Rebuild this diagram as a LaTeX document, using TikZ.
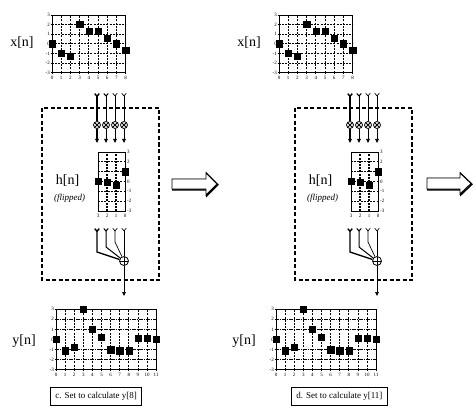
\documentclass[tikz,border=0pt]{standalone}
\usepackage{fontspec}
\setmainfont{Liberation Serif}
\usetikzlibrary{arrows.meta, plotmarks}

\tikzset{
  gridline/.style={dash pattern=on 2pt off 1.2pt, line width=0.8pt},
  dotline/.style={dash pattern=on 1.6pt off 0.7pt on 0.5pt off 0.7pt, line width=0.6pt},
  frame/.style={line width=0.7pt},
  ticklabel/.style={font=\fontsize{5}{5}\selectfont, inner sep=0.6pt},
  signal/.style={font=\fontsize{14}{16}\selectfont},
  mult/.style={circle, draw, line width=0.8pt, minimum size=7pt, inner sep=0pt, fill=white,
    path picture={\draw (path picture bounding box.south west) -- (path picture bounding box.north east)
      (path picture bounding box.north west) -- (path picture bounding box.south east);}},
  adder/.style={circle, draw, line width=0.8pt, minimum size=9pt, inner sep=0pt,
    path picture={\draw (path picture bounding box.west) -- (path picture bounding box.east)
      (path picture bounding box.north) -- (path picture bounding box.south);}},
  feed/.style={{Straight Barb[reversed, length=2.5pt, width=4.5pt]}-},
  outarrow/.style={-{Triangle[length=4pt, width=3.6pt]}},
  sample/.style={only marks, mark=square*, mark size=3.1pt},
  dashbox/.style={line width=1.5pt, dash pattern=on 4pt off 2.5pt},
  caption/.style={draw, line width=0.6pt, font=\fontsize{9}{10}\selectfont, inner xsep=5pt, minimum height=18pt, anchor=west},
  bigarrow/.style={draw, fill=white, line width=0.9pt}
}

\begin{document}
\begin{tikzpicture}[x=1pt, y=-1pt]
\useasboundingbox (0,0) rectangle (476,414);
\foreach \id/\xo/\bo/\yo/\co/\last in {c/0/0/0/50/8, d/227/253/220/291/11} {
  % input x[n]
  \node [signal] (xlab\id) at (22+\xo, 43) {x[n]};
  \begin{scope}[shift={(52+\xo,43.8)}, x=9.2pt, y=9.6pt]
    \foreach \v in {-2,...,2} \draw [gridline] (0,\v) -- (8,\v);
    \foreach \n in {1,...,7} \draw [gridline] (\n,-3) -- (\n,3);
    \draw [frame] (0,-3) rectangle (8,3);
    \foreach \v in {-3,...,3} {
      \draw [frame] (-0.15,\v) -- (0,\v);
      \node [ticklabel, left] (xv\id\v) at (-0.15,\v) {\v};
    }
    \foreach \n in {0,...,8} {
      \draw [frame] (\n,-3) -- (\n,-3.15);
      \node [ticklabel, below] (xn\id\n) at (\n,-3.3) {\n};
    }
    \draw plot [sample] coordinates {(0,0) (1,-1) (2,-1.3) (3,2) (4,1.3) (5,1.3) (6,0.6) (7,0) (8,-0.7)};
  \end{scope}
  % flipped impulse response
  \draw [dashbox] (42+\bo,108) rectangle (159+\bo,280);
  \node [signal] (hlab\id) at (67.5+\bo, 181) {h[n]};
  \node [font=\fontsize{9}{10}\selectfont\itshape] (flip\id) at (69.5+\bo, 198) {(flipped)};
  \begin{scope}[shift={(125+\bo,181.5)}, x=9pt, y=9.8pt]
    \foreach \v in {-2,...,2} \draw [gridline] (-3,\v) -- (0,\v);
    \foreach \n in {-2,-1} \draw [gridline, line width=1.1pt] (\n,-3) -- (\n,3);
    \draw [frame] (-3,-3) rectangle (0,3);
    \foreach \v in {-3,...,3} {
      \draw [frame] (0,\v) -- (0.15,\v);
      \node [ticklabel, right] (hv\id\v) at (0.15,\v) {\v};
    }
    \foreach \n in {0,...,3} {
      \draw [frame] (-\n,-3) -- (-\n,-3.15);
      \node [ticklabel, below] (hn\id\n) at (-\n,-3.3) {\n};
    }
    \draw plot [sample] coordinates {(-3,0) (-2,-0.1) (-1,-0.4) (0,1)};
  \end{scope}
  % multipliers and adder
  \node [adder] (add\id) at (124+\bo, 261) {};
  \coordinate (out\id) at (124+\bo, 296);
  \foreach \k/\w in {1/1.4, 2/1.0, 3/0.7, 4/0.7} {
    \pgfmathsetmacro{\cx}{88+9*\k+\bo}
    \pgfmathsetmacro{\by}{257-5*\k}
    \coordinate (t\k\id) at (\cx, 93);
    \node [mult] (m\k\id) at (\cx, 125) {};
    \coordinate (e\k\id) at (\cx, 143);
    \coordinate (s\k\id) at (\cx, 228);
    \coordinate (k\k\id) at (\cx, \by);
    \draw [feed, line width=\w pt] (t\k\id) -- (m\k\id);
    \draw [outarrow, line width=\w pt] (m\k\id) -- (e\k\id);
  }
  \draw [feed, line width=1.4pt] (s1\id) -- (k1\id) -- (add\id);
  \draw [feed, line width=1.0pt] (s2\id) -- (k2\id) -- (add\id);
  \draw [feed, line width=0.7pt] (s3\id) -- (k3\id) -- (add\id);
  \draw [feed, line width=0.7pt] (s4\id) -- (add\id);
  \draw [outarrow, line width=0.7pt] (add\id) -- (out\id);
  % output y[n]
  \node [signal] (ylab\id) at (24+\yo, 341) {y[n]};
  \begin{scope}[shift={(56+\yo,339.5)}, x=9.1pt, y=10.1pt]
    \foreach \v in {-2,-1,1,2} \draw [dotline] (0,\v) -- (11,\v);
    \foreach \n in {1,...,10} \draw [gridline] (\n,-3) -- (\n,3);
    \draw [frame] (0,-3) rectangle (11,3);
    \foreach \v in {-3,...,3} {
      \draw [frame] (-0.15,\v) -- (0,\v);
      \node [ticklabel, left] (yv\id\v) at (-0.15,\v) {\v};
    }
    \foreach \n in {0,...,11} {
      \draw [frame] (\n,-3) -- (\n,-3.15);
      \node [ticklabel, below] (yn\id\n) at (\n,-3.3) {\n};
    }
    \draw plot [sample] coordinates {(0,0) (1,-1.1) (2,-0.8) (3,3) (4,1) (5,0.2) (6,-1) (7,-1.1) (8,-1.1) (9,0.1) (10,0.1) (11,0)};
  \end{scope}
  \node [caption] (cap\id) at (\co, 396) {\id. Set to calculate y[\last]};
}
% hollow arrows between the steps
\draw [line width=1.6pt, shift={(0.8,0.8)}] (172,179) -- (206,179) -- (206,173) -- (217,184) -- (206,195) -- (206,189) -- (172,189) -- cycle;
\draw [bigarrow] (172,179) -- (206,179) -- (206,173) -- (217,184) -- (206,195) -- (206,189) -- (172,189) -- cycle;
\draw [line width=1.6pt, shift={(0.8,0.8)}] (427,178) -- (460,178) -- (460,173) -- (471,183.5) -- (460,194) -- (460,189) -- (427,189) -- cycle;
\draw [bigarrow] (427,178) -- (460,178) -- (460,173) -- (471,183.5) -- (460,194) -- (460,189) -- (427,189) -- cycle;
\end{tikzpicture}
\end{document}
